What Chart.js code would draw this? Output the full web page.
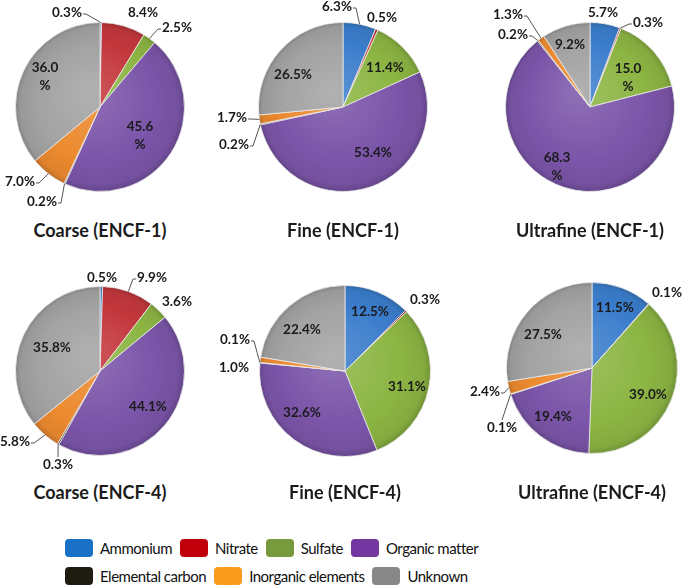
<!DOCTYPE html>
<html>
<head>
<meta charset="utf-8">
<script src="https://cdn.jsdelivr.net/npm/chart.js@4.4.1/dist/chart.umd.min.js"></script>
<style>
  html, body { margin: 0; padding: 0; background: #fff; }
  body { width: 685px; height: 588px; position: relative; overflow: hidden; font-family: Lato, "DejaVu Sans", sans-serif; }
  canvas { position: absolute; }
  .title { position: absolute; width: 220px; text-align: center; font-weight: bold; font-size: 18px; color: #1b1b1b; line-height: 22px; }
  .legend-row { position: absolute; left: 65px; display: flex; align-items: center; height: 20px; }
  .legend-item { display: flex; align-items: center; margin-right: 8px; font-size: 15px; color: #111; letter-spacing: -0.5px; }
  .legend-box { width: 28px; height: 18px; border-radius: 4px; margin-right: 7px; }
</style>
</head>
<body>
<script>
// categories and values (percent of mass)
const CATEGORIES = ['Ammonium', 'Nitrate', 'Sulfate', 'Organic matter', 'Elemental carbon', 'Inorganic elements', 'Unknown'];
const TITLES = ['Coarse (ENCF-1)', 'Fine (ENCF-1)', 'Ultrafine (ENCF-1)', 'Coarse (ENCF-4)', 'Fine (ENCF-4)', 'Ultrafine (ENCF-4)'];

const COARSE_1 = [0.3, 8.4, 2.5, 45.6, 0.2, 7.0, 36.0];
const FINE_1 = [6.3, 0.5, 11.4, 53.4, 0.2, 1.7, 26.5];
const ULTRAFINE_1 = [5.7, 0.3, 15.0, 68.3, 0.2, 1.3, 9.2];
const COARSE_4 = [0.5, 9.9, 3.6, 44.1, 0.3, 5.8, 35.8];
const FINE_4 = [12.5, 0.3, 31.1, 32.6, 0.1, 1.0, 22.4];
const ULTRAFINE_4 = [11.5, 0.1, 39.0, 19.4, 0.1, 2.4, 27.5];

const SERIES = [COARSE_1, FINE_1, ULTRAFINE_1, COARSE_4, FINE_4, ULTRAFINE_4];

// colours
const PIE_COLORS = ['#3b7dcc', '#c3373c', '#8cb543', '#7b55a9', '#2b2a22', '#ec8a2f', '#a2a2a2'];
const LEGEND_COLORS = ['#1a6fc6', '#c0000a', '#779a3c', '#7436a0', '#1e1b10', '#fb9c1c', '#878787'];

// layout: pie centre on the page and radius
const PIES = [
  { cx: 100, cy: 107, r: 85 },
  { cx: 343, cy: 107, r: 85 },
  { cx: 590, cy: 107, r: 85 },
  { cx: 100, cy: 371, r: 85 },
  { cx: 345, cy: 371, r: 86 },
  { cx: 592, cy: 368, r: 86 },
];
const TITLE_Y = [230, 230, 230, 492, 492, 492];

// label placement relative to pie centre: [dx, dy, leader line?]
const LABEL_POS = [
  [[-33, -94, 1], [43, -94, 0], [77, -79, 1], [40, 29, 0], [-58, 95, 1], [-80, 75, 1], [-55, -30, 0]],
  [[-6, -100, 1], [39, -89, 0], [42, -39, 0], [30, 46, 0], [-109, 38, 1], [-111, 11, 1], [-50, -32, 0]],
  [[13, -94, 0], [58, -84, 1], [38, -29, 0], [-33, 60, 0], [-77, -72, 1], [-82, -92, 1], [-20, -62, 0]],
  [[2, -93, 0], [52, -93, 1], [77, -69, 0], [48, 36, 0], [-42, 94, 1], [-85, 71, 1], [-48, -23, 0]],
  [[25, -59, 0], [80, -71, 0], [62, 16, 0], [-43, 42, 0], [-110, -31, 1], [-111, -3, 0], [-43, -41, 0]],
  [[23, -60, 0], [75, -75, 0], [56, 27, 0], [-39, 49, 0], [-90, 60, 1], [-107, 24, 1], [-49, -33, 0]],
];
// labels Excel broke onto two lines ("45.6" / "%")
const WRAPPED = [[3, 6], [], [2, 3], [], [], []];

const CANVAS_W = 250, CANVAS_H = 214;

function shade(hex, amt) {
  const n = parseInt(hex.slice(1), 16);
  let r = n >> 16, g = (n >> 8) & 255, b = n & 255;
  const f = v => Math.max(0, Math.min(255, Math.round(amt >= 0 ? v + (255 - v) * amt : v * (1 + amt))));
  return `rgb(${f(r)},${f(g)},${f(b)})`;
}

// excel-ish shading: lighter centre, darker rim
function sliceFill(ctx) {
  const base = PIE_COLORS[ctx.dataIndex];
  const area = ctx.chart.chartArea;
  if (!area) return base;
  const cx = (area.left + area.right) / 2, cy = (area.top + area.bottom) / 2;
  const r = Math.min(area.right - area.left, area.bottom - area.top) / 2;
  const g = ctx.chart.ctx.createRadialGradient(cx - r * 0.15, cy - r * 0.2, 0, cx, cy, r);
  g.addColorStop(0, shade(base, 0.16));
  g.addColorStop(0.7, base);
  g.addColorStop(0.93, shade(base, -0.06));
  g.addColorStop(1, shade(base, -0.2));
  return g;
}

const labelPlugin = {
  id: 'pieLabels',
  afterDatasetsDraw(chart) {
    const idx = chart.options.plugins.pieLabels.index;
    const values = chart.data.datasets[0].data;
    const arcs = chart.getDatasetMeta(0).data;
    const ctx = chart.ctx;
    ctx.save();
    ctx.font = 'bold 13.5px Lato, "DejaVu Sans", sans-serif';
    ctx.fillStyle = '#1a1a1a';
    ctx.textAlign = 'center';
    ctx.textBaseline = 'middle';
    arcs.forEach((arc, i) => {
      const p = arc.getProps(['x', 'y', 'startAngle', 'endAngle', 'outerRadius'], true);
      const [dx, dy, leader] = LABEL_POS[idx][i];
      const lx = p.x + dx, ly = p.y + dy;
      const txt = values[i].toFixed(1);
      const lines = WRAPPED[idx].includes(i) ? [txt, '%'] : [txt + '%'];
      const lh = 18;
      lines.forEach((s, k) => ctx.fillText(s, lx, ly + (k - (lines.length - 1) / 2) * lh));
      if (leader) {
        const w = ctx.measureText(lines[0]).width;
        const box = { l: lx - w / 2, r: lx + w / 2, t: ly - 7, b: ly + 7 };
        const mid = (p.startAngle + p.endAngle) / 2;
        const ax = p.x + Math.cos(mid) * p.outerRadius, ay = p.y + Math.sin(mid) * p.outerRadius;
        ctx.strokeStyle = '#555';
        ctx.lineWidth = 1;
        ctx.beginPath();
        if (ax >= box.r) {
          ctx.moveTo(box.r + 1, ly + 1); ctx.lineTo(box.r + 4, ly + 1);
        } else if (ax <= box.l) {
          ctx.moveTo(box.l - 1, ly + 1); ctx.lineTo(box.l - 4, ly + 1);
        } else if (ay < box.t) {
          ctx.moveTo(lx, box.t - 1);
        } else {
          ctx.moveTo(lx, box.b + 1);
        }
        ctx.lineTo(ax, ay);
        ctx.stroke();
      }
    });
    ctx.restore();
  }
};

SERIES.forEach((values, i) => {
  const pie = PIES[i];
  const canvas = document.createElement('canvas');
  canvas.width = CANVAS_W;
  canvas.height = CANVAS_H;
  canvas.style.left = (pie.cx - CANVAS_W / 2) + 'px';
  canvas.style.top = (pie.cy - CANVAS_H / 2) + 'px';
  document.body.appendChild(canvas);

  const padX = CANVAS_W / 2 - pie.r, padY = CANVAS_H / 2 - pie.r;
  new Chart(canvas, {
    type: 'pie',
    data: {
      labels: CATEGORIES,
      datasets: [{
        data: values,
        backgroundColor: sliceFill,
        borderColor: 'rgba(235,235,235,0.8)',
        borderWidth: 1,
      }],
    },
    options: {
      responsive: false,
      animation: false,
      devicePixelRatio: 1,
      layout: { padding: { left: padX, right: padX, top: padY, bottom: padY } },
      plugins: {
        legend: { display: false },
        tooltip: { enabled: false },
        pieLabels: { index: i },
      },
    },
    plugins: [labelPlugin],
  });

  const t = document.createElement('div');
  t.className = 'title';
  t.textContent = TITLES[i];
  t.style.left = (pie.cx - 110) + 'px';
  t.style.top = (TITLE_Y[i] - 11) + 'px';
  document.body.appendChild(t);
});

// legend, two rows like the original
const LEGEND_ROWS = [[0, 1, 2, 3], [4, 5, 6]];
const LEGEND_Y = [538, 566];
LEGEND_ROWS.forEach((row, r) => {
  const div = document.createElement('div');
  div.className = 'legend-row';
  div.style.top = LEGEND_Y[r] + 'px';
  row.forEach(k => {
    const item = document.createElement('div');
    item.className = 'legend-item';
    const box = document.createElement('div');
    box.className = 'legend-box';
    box.style.background = LEGEND_COLORS[k];
    const label = document.createElement('span');
    label.textContent = CATEGORIES[k];
    item.appendChild(box);
    item.appendChild(label);
    div.appendChild(item);
  });
  document.body.appendChild(div);
});
</script>
</body>
</html>
